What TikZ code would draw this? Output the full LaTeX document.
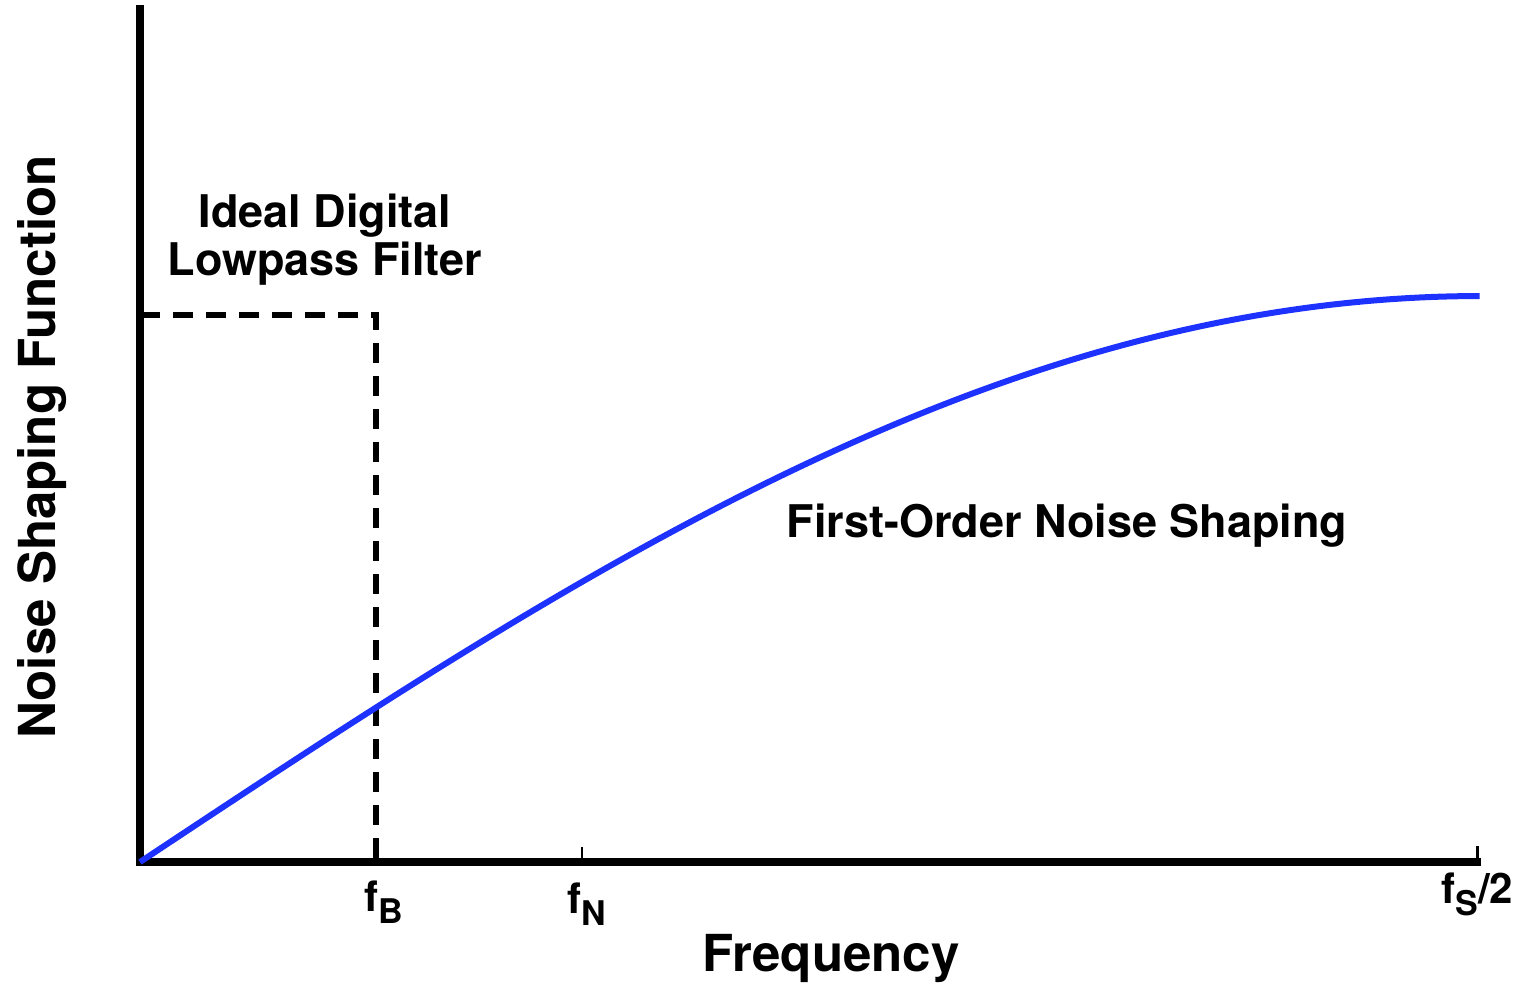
\documentclass[tikz,border=0pt]{standalone}
\usepackage{fontspec}
\setmainfont{TeX Gyre Heros}
\newcommand{\lowsub}[1]{\raisebox{-6pt}{\fontsize{17}{18}\selectfont #1}}
\begin{document}
\begin{tikzpicture}[x=0.5pt,y=-0.5pt,
  axisline/.style={line width=4pt,line cap=rect},
  ticks/.style={line width=1pt},
  lowpass/.style={line width=2.6pt,dash pattern=on 10pt off 6.5pt},
  shaping/.style={line width=3pt,color=shapeblue,line join=round},
  lbl/.style={font=\bfseries\fontsize{22.5}{24}\selectfont,inner sep=0pt},
  ticklbl/.style={font=\bfseries\fontsize{21}{24}\selectfont,inner sep=0pt,anchor=north west}]
\definecolor{shapeblue}{RGB}{30,50,255}
\useasboundingbox (0,0) rectangle (1526,986);
% axes
\coordinate (origin) at (140,862);
\coordinate (ytop) at (140,9);
\coordinate (xend) at (1477,862);
\draw[axisline] (ytop) -- (origin) -- (xend);
% ticks
\coordinate (fNtick) at (582,862);
\coordinate (fNtop) at (582,847);
\coordinate (fStop) at (1477,846);
\draw[ticks] (fNtick) -- (fNtop);
\draw[line width=1.5pt] (xend) -- (fStop);
% ideal lowpass filter
\coordinate (lpA) at (140,315);
\coordinate (lpB) at (376,315);
\coordinate (lpC) at (376,862);
\draw[lowpass] (lpA) -- (lpB) -- (lpC);
% first-order noise shaping curve
\draw[shaping] plot[domain=0:1,samples=200] ({140+1341*\x},{862-566*sin(90*\x)});
% labels
\node[lbl,align=center] (lptext) at (325,240) {Ideal Digital\\Lowpass Filter};
\node[lbl] (ntftext) at (1067,526) {First-Order Noise Shaping};
\node[lbl,font=\bfseries\fontsize{25.5}{30}\selectfont] (xlabel) at (831,958) {Frequency};
\node[lbl,font=\bfseries\fontsize{25.5}{30}\selectfont,rotate=90] (ylabel) at (42,447) {Noise Shaping Function};
\node[ticklbl] (fB) at (364,880) {f\lowsub{B}};
\node[ticklbl] (fN) at (567,882) {f\lowsub{N}};
\node[ticklbl] (fS) at (1441,872) {f\lowsub{S}/2};
\end{tikzpicture}
\end{document}
